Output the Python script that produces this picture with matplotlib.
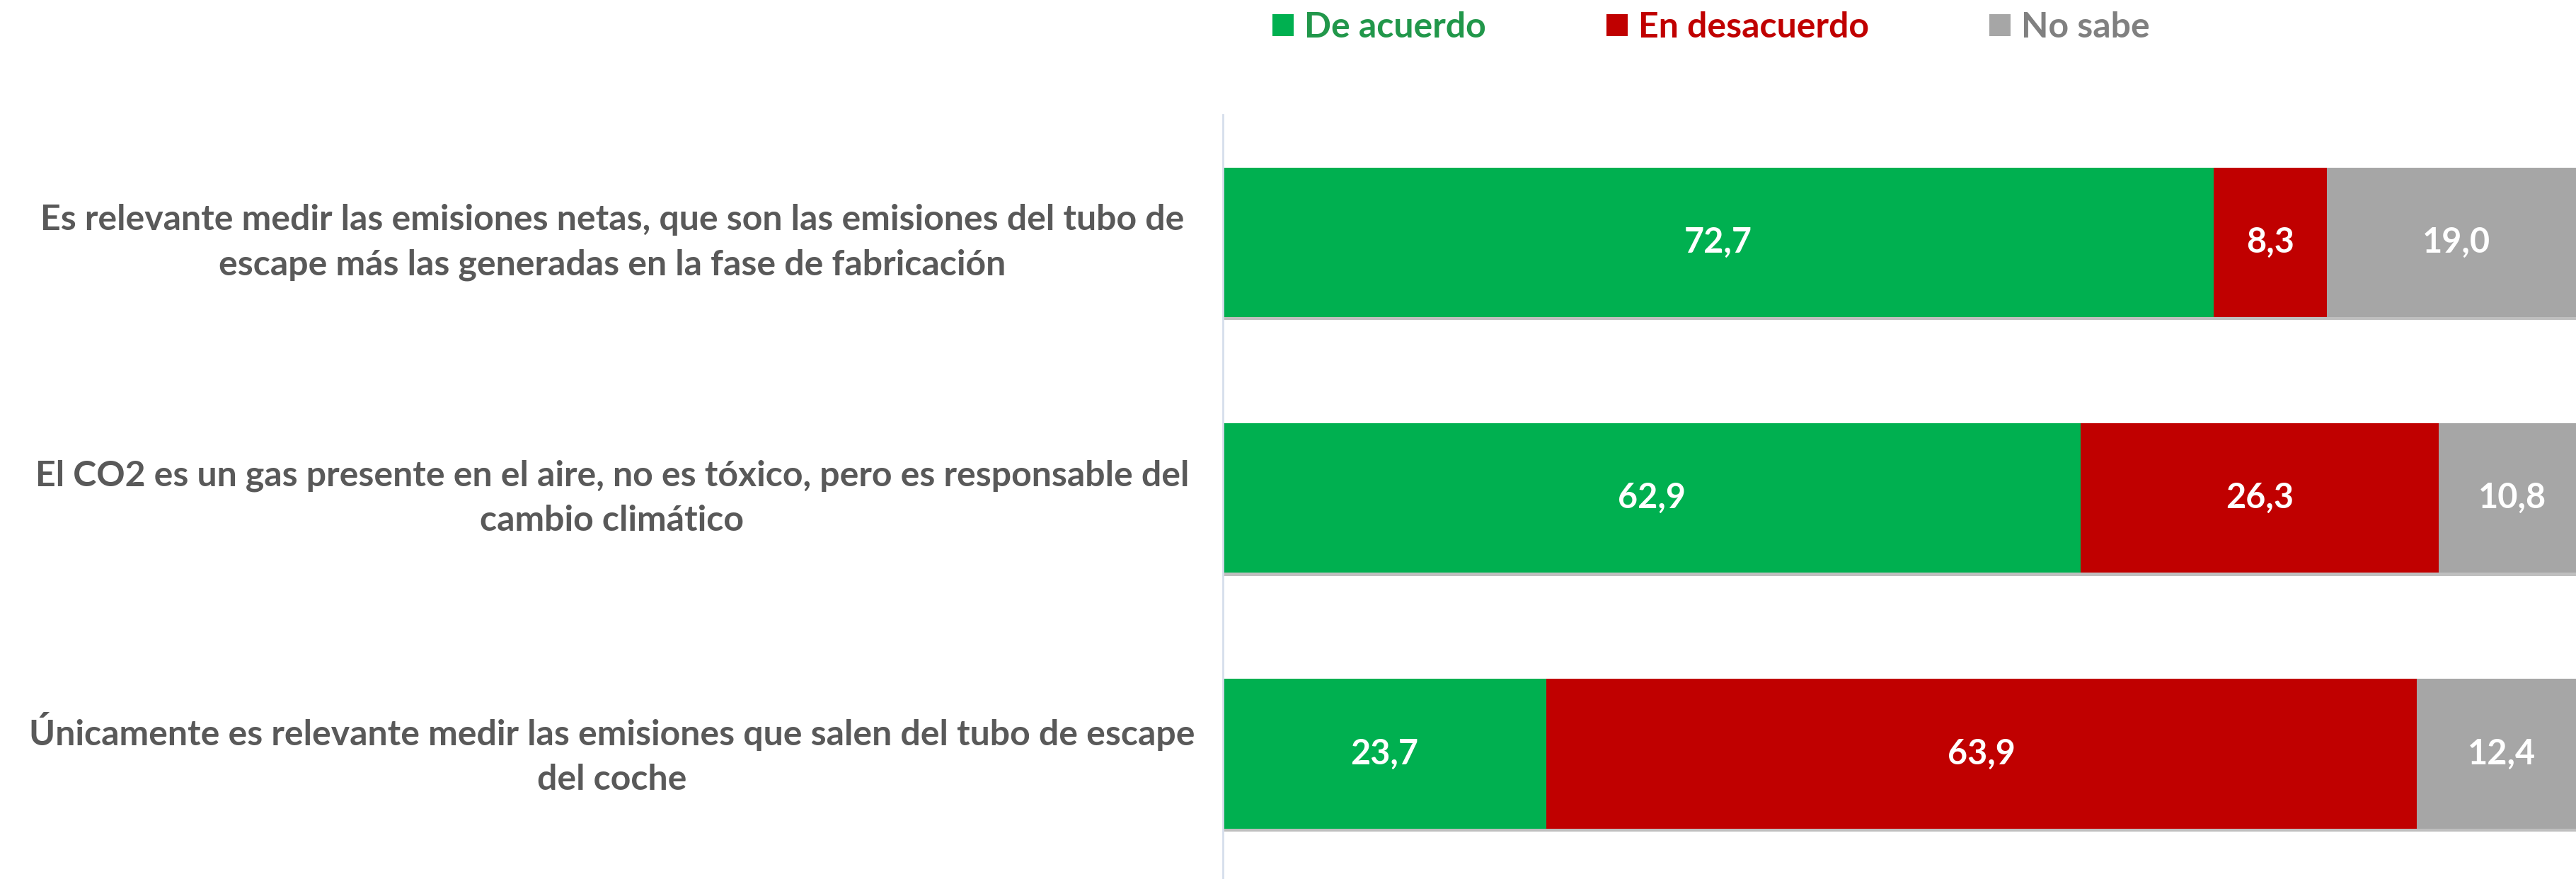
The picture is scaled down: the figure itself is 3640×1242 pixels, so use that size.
import matplotlib
matplotlib.use("Agg")
import matplotlib.pyplot as plt
import matplotlib.transforms as mtransforms
from matplotlib.patches import Patch
from matplotlib import patheffects as pe

plt.rcParams['font.family'] = ['Lato', 'DejaVu Sans']
plt.rcParams['font.weight'] = 'bold'

# data
categories = [
    "Es relevante medir las emisiones netas, que son las emisiones del tubo de\nescape más las generadas en la fase de fabricación",
    "El CO2 es un gas presente en el aire, no es tóxico, pero es responsable del\ncambio climático",
    "Únicamente es relevante medir las emisiones que salen del tubo de escape\ndel coche",
]
series_names = ["De acuerdo", "En desacuerdo", "No sabe"]
de_acuerdo = [72.7, 62.9, 23.7]
en_desacuerdo = [8.3, 26.3, 63.9]
no_sabe = [19.0, 10.8, 12.4]

colors = ["#00B050", "#C00000", "#A6A6A6"]
text_colors = ["#21974A", "#C00000", "#808080"]
label_color = "#595959"

fig = plt.figure(figsize=(36.41, 12.42), dpi=100)
ax = fig.add_axes([0.4746, 0.0, 0.529, 0.8696])

values = [de_acuerdo, en_desacuerdo, no_sabe]
ypos = list(range(len(categories)))
left = [0.0] * len(categories)
shadow = [pe.SimplePatchShadow(offset=(0, -3), shadow_rgbFace="#000000", alpha=0.25), pe.Normal()]
for name, vals, col in zip(series_names, values, colors):
    bars = ax.barh(ypos, vals, left=left, height=0.585, color=col, label=name, zorder=2)
    for b in bars:
        b.set_path_effects(shadow)
    for y, v, l in zip(ypos, vals, left):
        ax.text(l + v / 2, y, f"{v:.1f}".replace(".", ","), ha="center", va="center",
                color="white", fontsize=35, fontweight="bold", zorder=3)
    left = [l + v for l, v in zip(left, vals)]

ax.set_xlim(0, 100)
ax.set_ylim(2.49, -0.5)
ax.set_xticks([])
ax.set_yticks([])
for s in ["top", "right", "bottom"]:
    ax.spines[s].set_visible(False)
ax.spines["left"].set_color("#D6DEEB")
ax.spines["left"].set_linewidth(2)

# category labels, centred in the left margin
trans = mtransforms.blended_transform_factory(fig.transFigure, ax.transData)
for y, cat in zip(ypos, categories):
    ax.text(0.2375, y, cat, transform=trans, ha="center", va="center",
            multialignment="center", fontsize=36, fontweight="bold",
            color=label_color, linespacing=1.5, clip_on=False)

handles = [Patch(facecolor=c, edgecolor="none") for c in colors]
leg = fig.legend(handles, series_names, loc="center", bbox_to_anchor=(0.664, 0.969),
                 ncol=3, frameon=False, fontsize=36, handlelength=0.6, handleheight=0.6,
                 handletextpad=0.3, columnspacing=3.4)
for t, c in zip(leg.get_texts(), text_colors):
    t.set_color(c)
    t.set_fontweight("bold")

fig.savefig("out.png", dpi=100)
